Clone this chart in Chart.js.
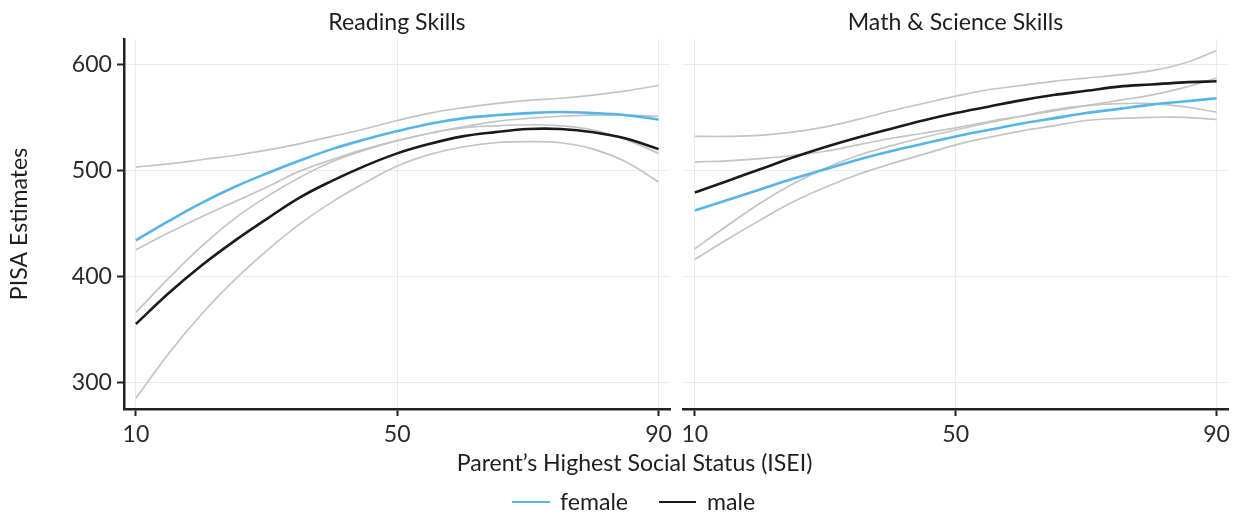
<!DOCTYPE html>
<html>
<head>
<meta charset="utf-8">
<script src="https://cdn.jsdelivr.net/npm/chart.js@4.4.0/dist/chart.umd.min.js"></script>
<style>
html,body{margin:0;padding:0;background:#fff;}
#wrap{position:relative;width:1237px;height:515px;overflow:hidden;font-family:Lato,"Open Sans",sans-serif;color:#222;}
canvas{position:absolute;left:0;top:0;}
.t{position:absolute;white-space:nowrap;line-height:1;}
.key{position:absolute;height:2.5px;}
</style>
</head>
<body>
<div id="wrap">
  <canvas id="c1" width="1237" height="515"></canvas>
  <canvas id="c2" width="1237" height="515"></canvas>
  <div class="t" id="title1">Reading Skills</div>
  <div class="t" id="title2">Math &amp; Science Skills</div>
  <div class="t" id="xtitle">Parent’s Highest Social Status (ISEI)</div>
  <div class="key" id="keyF"></div>
  <div class="t" id="labF">female</div>
  <div class="key" id="keyM"></div>
  <div class="t" id="labM">male</div>
</div>
<script>
// ---------- data ----------
const isei = [10,15,20,25,30,35,40,45,50,55,60,65,70,75,80,85,90];
const xTickValues = [10,50,90];
const yTickValues = [300,400,500,600];
const panelTitles = ["Reading Skills","Math & Science Skills"];
const seriesNames = ["female","male"];

// Reading Skills
const readFemale   = [434,452,469,484,497,509,520,529,537,544,549,552,554,555,554,552,548];
const readFemaleLo = [366,398,428,454,475,493,508,519,528,535,540,542,543,542,538,529,516];
const readFemaleHi = [503,506,510,514,519,525,532,539,547,554,559,563,566,568,571,575,580];
const readMale     = [355,384,410,433,454,474,490,504,516,525,532,536,539,539,536,530,520];
const readMaleLo   = [285,327,364,396,424,449,470,488,504,515,522,526,527,526,520,508,489];
const readMaleHi   = [425,441,456,470,484,499,510,520,528,535,541,546,549,551,552,552,551];

// Math & Science Skills
const mathFemale   = [462,472,482,492,501,510,518,525,532,538,544,549,554,558,562,565,568];
const mathFemaleLo = [416,435,453,470,484,496,506,515,524,531,537,542,547,549,550,550,548];
const mathFemaleHi = [508,509,511,514,518,524,530,535,540,546,551,556,561,566,571,578,587];
const mathMale     = [479,490,501,512,522,531,539,547,554,560,566,571,575,579,581,583,584];
const mathMaleLo   = [426,448,469,487,502,514,523,531,538,545,551,557,561,563,563,560,555];
const mathMaleHi   = [532,532,533,536,541,548,556,563,570,576,580,584,587,590,594,601,613];

// ---------- style ----------
const FEMALE_COL = "#56B4E9";
const MALE_COL = "#1a1a1a";
const CI_COL = "#c4c4c4";
const GRID_COL = "#ebebeb";
const AXIS_COL = "#222222";
const TEXT_COL = "#1e1e1e";
const FONT = "Lato";
const XMIN = 8.18, XMAX = 91.75, YMIN = 274.8, YMAX = 623.9;

const mctx = document.createElement("canvas").getContext("2d");
function fitSize(text, target){ mctx.font = "100px " + FONT; return 100 * target / mctx.measureText(text).width; }
const FS = fitSize("Parent’s Highest Social Status (ISEI)", 356);

function pts(ys){ return isei.map((x,i)=>({x:x, y:ys[i]})); }
function ds(label, ys, color, w){
  return {label, data: pts(ys), borderColor: color, backgroundColor: color, borderWidth: w,
          pointRadius: 0, tension: 0.4, fill: false};
}

function makeChart(id, f, fLo, fHi, m, mLo, mHi, isLeft){
  const font = {family: FONT, size: FS};
  const yScale = {
    type: "linear", min: YMIN, max: YMAX,
    afterBuildTicks: s => { s.ticks = yTickValues.map(v => ({value: v})); },
    grid: {color: GRID_COL, lineWidth: 1, drawTicks: isLeft, tickColor: AXIS_COL, tickLength: 7, tickWidth: 2},
    border: {display: isLeft, color: AXIS_COL, width: 2.5},
    ticks: {display: isLeft, font, color: "#2b2b2b", padding: 5},
    title: {display: isLeft, text: "PISA Estimates", font, color: TEXT_COL, padding: {top: 6, bottom: 0}},
    afterFit: s => { s.width = isLeft ? 124 : 0; }
  };
  const xScale = {
    type: "linear", min: XMIN, max: XMAX,
    afterBuildTicks: s => { s.ticks = xTickValues.map(v => ({value: v})); },
    grid: {color: GRID_COL, lineWidth: 1, tickColor: AXIS_COL, tickLength: 7, tickWidth: 2},
    border: {color: AXIS_COL, width: 2.5},
    ticks: {font, color: "#2b2b2b", padding: 5, maxRotation: 0, autoSkip: false},
    afterFit: s => { s.height = 50; }
  };
  return new Chart(document.getElementById(id), {
    type: "line",
    data: {datasets: [
      ds(seriesNames[0], f, FEMALE_COL, 2.6),
      ds(seriesNames[1], m, MALE_COL, 2.6),
      ds("female upper", fHi, CI_COL, 1.7),
      ds("female lower", fLo, CI_COL, 1.7),
      ds("male upper", mHi, CI_COL, 1.7),
      ds("male lower", mLo, CI_COL, 1.7)
    ]},
    options: {
      responsive: false, animation: false, devicePixelRatio: 1, events: [],
      layout: {padding: isLeft ? {left: 0, top: 39, right: 567, bottom: 56} : {left: 683, top: 39, right: 9, bottom: 56}},
      plugins: {legend: {display: false}, title: {display: false}, tooltip: {enabled: false}},
      scales: {x: xScale, y: yScale}
    }
  });
}

makeChart("c1", readFemale, readFemaleLo, readFemaleHi, readMale, readMaleLo, readMaleHi, true);
makeChart("c2", mathFemale, mathFemaleLo, mathFemaleHi, mathMale, mathMaleLo, mathMaleHi, false);

// ---------- outside texts ----------
function place(id, text, cx, baseline, align){
  const el = document.getElementById(id);
  el.textContent = text;
  el.style.fontSize = FS + "px";
  el.style.fontFamily = FONT;
  el.style.color = TEXT_COL;
  const top = baseline - (0.987 - 0.1) * FS;
  el.style.top = top + "px";
  el.style.left = cx + "px";
  if (align === "center") { el.style.transform = "translateX(-50%)"; }
}
place("title1", panelTitles[0], 397, 31, "center");
place("title2", panelTitles[1], 955.5, 31, "center");
place("xtitle", "Parent’s Highest Social Status (ISEI)", 634.5, 472, "center");
place("labF", seriesNames[0], 560, 511, "left");
place("labM", seriesNames[1], 707, 511, "left");
const kF = document.getElementById("keyF");
kF.style.cssText += "left:512px;top:500.5px;width:38px;background:" + FEMALE_COL + ";";
const kM = document.getElementById("keyM");
kM.style.cssText += "left:659px;top:500.5px;width:37px;background:" + MALE_COL + ";";
</script>
</body>
</html>
